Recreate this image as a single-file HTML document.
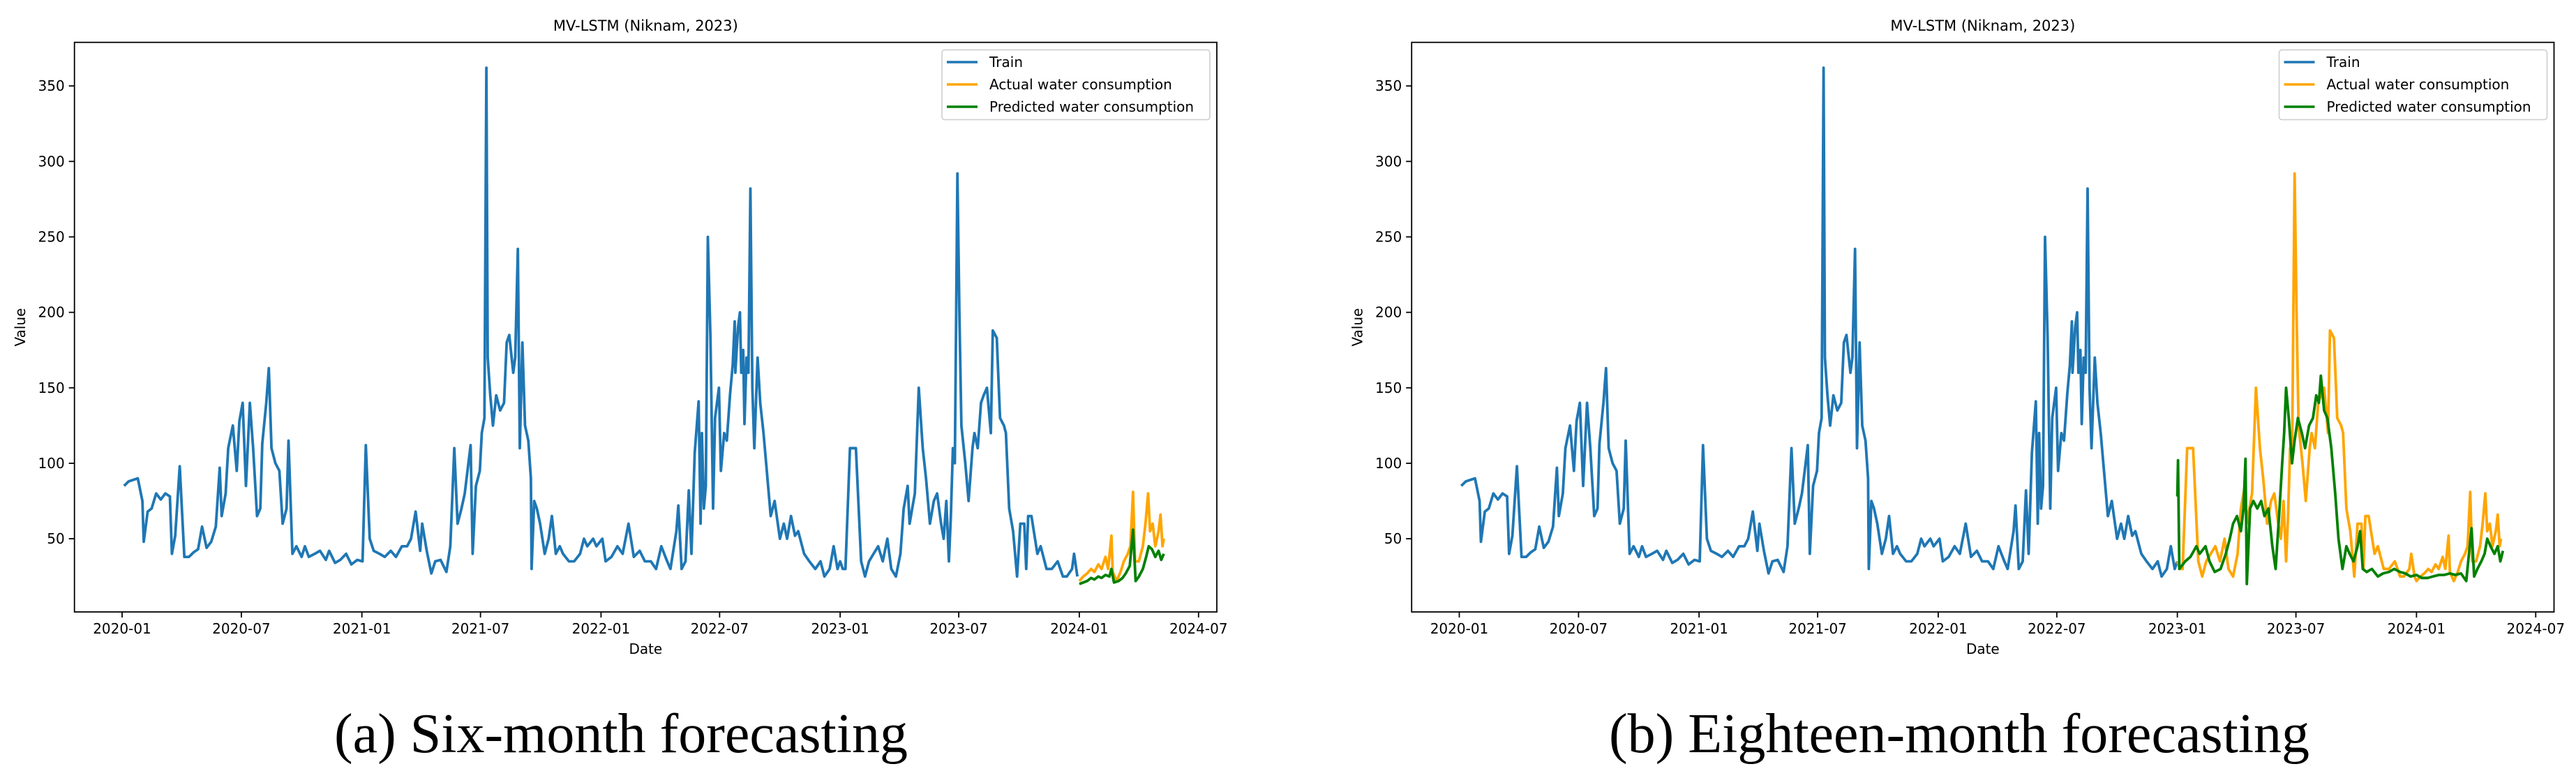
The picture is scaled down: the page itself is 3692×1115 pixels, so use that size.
<!DOCTYPE html>
<html><head><meta charset="utf-8">
<style>
html,body{margin:0;padding:0;background:#fff;}
svg{display:block;}
text{font-family:"DejaVu Sans","Liberation Sans",sans-serif;fill:#000;}
.cap{font-family:"Liberation Serif",serif;font-size:80px;}
</style></head>
<body>
<svg id="fig" width="3692" height="1115" viewBox="0 0 3692 1115" xmlns="http://www.w3.org/2000/svg"></svg>
<script>
// ---- data (day offsets since 2020-01-01) ----
const trainDays=[3,10,17,24,31,33,39,45,52,59,66,73,76,81,88,95,102,109,116,122,129,136,143,149,152,158,162,169,175,179,184,189,195,200,206,211,214,220,224,228,234,240,245,251,254,260,266,274,279,285,294,302,311,316,325,333,342,350,359,367,372,378,384,393,401,410,418,427,435,441,448,455,458,465,472,478,486,495,501,507,512,518,523,532,535,540,546,549,553,556,558,562,566,571,577,583,587,591,597,600,604,607,611,615,620,624,625,629,633,638,645,651,656,662,668,673,682,690,699,705,710,719,724,733,738,747,756,764,773,781,790,798,807,815,823,832,837,846,849,854,860,865,869,874,880,883,885,888,891,894,898,902,905,911,914,919,923,928,932,935,936,940,943,945,948,950,953,956,959,962,965,970,974,979,984,990,996,1004,1010,1015,1021,1027,1032,1041,1049,1058,1066,1072,1080,1086,1092,1096,1100,1104,1111,1120,1128,1134,1140,1147,1154,1161,1168,1174,1181,1188,1193,1199,1202,1206,1210,1216,1222,1227,1233,1239,1244,1250,1254,1258,1262,1265,1268,1271,1275,1278,1281,1287,1292,1298,1301,1306,1311,1315,1320,1326,1329,1335,1340,1346,1349,1354,1360,1366,1371,1377,1380,1383,1388,1397,1402,1411,1419,1428,1436,1442,1450,1453,1458];
const trainVals=[85,88,89,90,75,48,68,70,80,76,80,78,40,52,98,38,38,41,43,58,44,48,58,97,65,80,110,125,95,128,140,85,140,110,65,70,113,140,163,110,100,95,60,70,115,40,45,38,45,38,40,42,36,42,34,36,40,33,36,35,112,50,42,40,38,42,38,45,45,50,68,42,60,42,27,35,36,28,45,110,60,70,80,112,40,85,95,120,130,362,170,145,125,145,135,140,180,185,160,170,242,110,180,125,115,90,30,75,70,60,40,50,65,40,45,40,35,35,40,50,45,50,45,50,35,38,45,40,60,38,42,35,35,30,45,35,30,55,72,30,35,82,40,107,141,60,120,70,85,250,184,70,130,150,95,120,115,146,165,194,160,190,200,160,175,126,170,160,282,150,110,170,140,120,95,65,75,50,60,50,65,52,55,40,35,30,35,25,30,45,30,35,30,30,110,110,35,25,35,40,45,35,50,30,25,40,70,85,60,70,80,150,110,90,60,75,80,60,50,75,35,65,110,100,292,200,125,100,75,110,120,110,140,145,150,120,188,183,130,125,120,70,55,25,60,60,30,65,65,40,45,30,30,35,25,25,30,40,25,25,45,22];
const testDays=[1461,1467,1473,1479,1484,1490,1495,1501,1505,1510,1512,1518,1524,1529,1535,1539,1543,1546,1552,1558,1562,1566,1569,1573,1577,1582,1585,1588,1590];
const testVals=[22,25,27,30,28,33,30,38,30,52,28,22,28,35,40,45,81,35,35,45,60,80,55,60,45,55,66,45,50];
const predADays=[1461,1467,1473,1479,1484,1490,1495,1501,1507,1510,1514,1521,1527,1532,1538,1543,1547,1552,1558,1563,1567,1572,1577,1582,1586,1590];
const predAVals=[20,21,22,24,23,25,24,26,25,30,21,22,24,27,32,56,22,25,30,38,45,43,38,42,36,40];
const predBDays=[1096,1097,1099,1108,1116,1125,1130,1139,1145,1153,1162,1170,1176,1181,1187,1193,1197,1200,1202,1207,1212,1218,1224,1229,1235,1241,1246,1252,1256,1259,1262,1266,1271,1275,1280,1286,1291,1297,1303,1308,1312,1315,1320,1325,1331,1337,1342,1348,1354,1359,1365,1371,1375,1379,1385,1393,1402,1410,1419,1427,1436,1444,1452,1461,1469,1478,1486,1495,1503,1512,1520,1529,1537,1545,1549,1554,1560,1565,1569,1574,1580,1585,1589,1593];
const predBVals=[78,102,30,35,38,45,40,45,35,28,30,40,50,60,65,55,70,103,20,70,75,70,75,65,70,45,30,70,100,120,150,130,100,115,130,120,110,125,130,145,140,158,135,130,110,80,50,30,45,40,35,45,55,30,28,30,25,27,28,30,28,27,25,26,24,24,25,26,26,27,26,27,22,57,25,30,35,40,50,45,40,45,35,42];
const yTicks=[50,100,150,200,250,300,350];
const xTickLabels=["2020-01","2020-07","2021-01","2021-07","2022-01","2022-07","2023-01","2023-07","2024-01","2024-07"];
const xTickDays=[0,182,366,547,731,912,1096,1277,1461,1643];
const splitB=1096;

const NS="http://www.w3.org/2000/svg";
const svg=document.getElementById('fig');
function mk(tag,attrs,parent){const e=document.createElementNS(NS,tag);for(const k in attrs)e.setAttribute(k,attrs[k]);(parent||svg).appendChild(e);return e;}
const AX={l:106.7,r:1744,t:60.7,b:877};
function xs(d,off){return 175+d*0.939+off;}
function ys(v){return 877-(v-1.5)*2.163;}
function pathOf(days,vals,off){let s="";for(let i=0;i<days.length;i++){s+=(i?"L":"M")+xs(days[i],off).toFixed(1)+","+ys(vals[i]).toFixed(1);}return s;}

function panel(off,mode,caption){
  const g=mk('g',{});
  
  
  const t=mk('text',{x:AX.l+off+(AX.r-AX.l)/2,y:44,'text-anchor':'middle','font-size':21},g);
  t.textContent="MV-LSTM (Niknam, 2023)";
  
  
  yTicks.forEach(v=>{
    const y=ys(v);
    const tk=mk('line',{x1:AX.l+off-8,x2:AX.l+off,y1:y,y2:y,stroke:'#000','stroke-width':1.8},g);
    
    
    const tl=mk('text',{x:AX.l+off-14,y:y+7,'text-anchor':'end','font-size':20},g);
    tl.textContent=v;
    
    
  });
  xTickDays.forEach((d,i)=>{
    const x=xs(d,off);
    const tk=mk('line',{x1:x,x2:x,y1:AX.b,y2:AX.b+8,stroke:'#000','stroke-width':1.8},g);
    
    
    const tl=mk('text',{x:x,y:AX.b+31,'text-anchor':'middle','font-size':20},g);
    tl.textContent=xTickLabels[i];
    
    
  });
  const xl=mk('text',{x:AX.l+off+(AX.r-AX.l)/2,y:937,'text-anchor':'middle','font-size':20},g);
  xl.textContent="Date";
  
  
  const yl=mk('text',{x:0,y:0,'text-anchor':'middle','font-size':20,transform:`translate(${36+off},469) rotate(-90)`},g);
  yl.textContent="Value";
  
  
  let tD=[],tV=[],aD=[],aV=[];
  if(mode==='a'){tD=trainDays;tV=trainVals;aD=testDays;aV=testVals;}
  else{
    trainDays.forEach((d,i)=>{if(d<=splitB){tD.push(d);tV.push(trainVals[i]);}if(d>=splitB){aD.push(d);aV.push(trainVals[i]);}});
    aD=aD.concat(testDays);aV=aV.concat(testVals);
  }
  const pD=mode==='a'?predADays:predBDays, pV=mode==='a'?predAVals:predBVals;
  const s1=mk('path',{d:pathOf(tD,tV,off),fill:'none',stroke:'#1f77b4','stroke-width':3.8,'stroke-linejoin':'round'},g);
  
  
  const s2=mk('path',{d:pathOf(aD,aV,off),fill:'none',stroke:'#ffa500','stroke-width':3.8,'stroke-linejoin':'round'},g);
  
  
  const s3=mk('path',{d:pathOf(pD,pV,off),fill:'none',stroke:'#008000','stroke-width':3.8,'stroke-linejoin':'round'},g);
  
  
  const fr=mk('rect',{x:AX.l+off,y:AX.t,width:AX.r-AX.l,height:AX.b-AX.t,fill:'none',stroke:'#000','stroke-width':1.8},g);
  
  
  const lg=mk('g',{},g);
  
  
  mk('rect',{x:1350+off,y:71.5,width:384,height:100,rx:4,fill:'#fff',stroke:'#ccc','stroke-width':1.5},lg);
  [['Train','#1f77b4'],['Actual water consumption','#ffa500'],['Predicted water consumption','#008000']].forEach((e,i)=>{
    const y=89+i*32;
    const le=mk('g',{},lg);
    
    
    mk('line',{x1:1357+off,x2:1401+off,y1:y,y2:y,stroke:e[1],'stroke-width':3.5},le);
    const tx=mk('text',{x:1418+off,y:y+7,'font-size':20},le);
    tx.textContent=e[0];
  });
  const c=mk('text',{x:(mode==='a'?890:2808),y:1078,'text-anchor':'middle',class:'cap'},g);
  c.textContent=caption;
  
  
}
panel(0,'a','(a) Six-month forecasting');
panel(1916.5,'b','(b) Eighteen-month forecasting');
</script>
</body></html>
